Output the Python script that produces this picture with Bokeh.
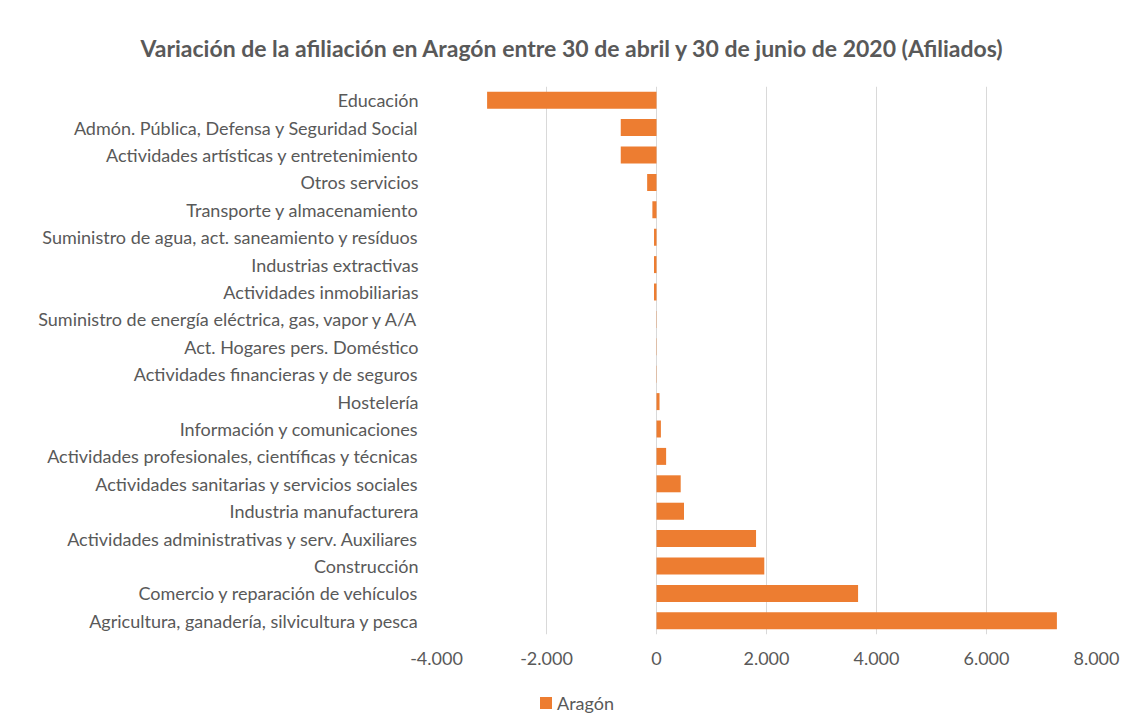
from bokeh.plotting import figure
from bokeh.models import (FactorRange, Range1d, FixedTicker, Title, Div,
                          ColumnDataSource)
from bokeh.layouts import column
from bokeh.embed import file_html
from bokeh.resources import INLINE

categories = [
    "Educación",
    "Admón. Pública, Defensa y Seguridad Social",
    "Actividades artísticas y entretenimiento",
    "Otros servicios",
    "Transporte y almacenamiento",
    "Suministro de agua, act. saneamiento y resíduos",
    "Industrias extractivas",
    "Actividades inmobiliarias",
    "Suministro de energía eléctrica, gas, vapor y A/A",
    "Act. Hogares pers. Doméstico",
    "Actividades financieras y de seguros",
    "Hostelería",
    "Información y comunicaciones",
    "Actividades profesionales, científicas y técnicas",
    "Actividades sanitarias y servicios sociales",
    "Industria manufacturera",
    "Actividades administrativas y serv. Auxiliares",
    "Construcción",
    "Comercio y reparación de vehículos",
    "Agricultura, ganadería, silvicultura y pesca",
]
aragon = [-3080, -650, -650, -170, -75, -45, -45, -45, -5, -5, -5,
          55, 80, 175, 440, 500, 1810, 1960, 3665, 7280]

tick_values = [-4000, -2000, 0, 2000, 4000, 6000, 8000]
tick_labels = ["-4.000", "-2.000", "0", "2.000", "4.000", "6.000", "8.000"]

title_text = "Variación de la afiliación en Aragón entre 30 de abril y 30 de junio de 2020 (Afiliados)"
series_name = "Aragón"
bar_color = "#ED7D31"

FONT = "Lato"
TXT = "#595959"

src = ColumnDataSource(dict(cat=categories, val=aragon))

p = figure(width=1130, height=686,
           y_range=FactorRange(factors=list(reversed(categories))),
           x_range=Range1d(-4000, 8000),
           output_backend="svg", toolbar_location=None,
           min_border_left=436, min_border_right=34,
           min_border_top=86, min_border_bottom=52)

r = p.hbar(y="cat", right="val", left=0, height=0.62, source=src,
           fill_color=bar_color, line_color=None)

p.outline_line_color = None
p.ygrid.grid_line_color = None
p.xgrid.grid_line_color = "#d9d9d9"
p.xgrid.grid_line_width = 1

p.xaxis.ticker = FixedTicker(ticks=tick_values)
p.xaxis.major_label_overrides = {v: l for v, l in zip(tick_values, tick_labels)}
for ax in (p.xaxis, p.yaxis):
    ax.axis_line_color = None
    ax.major_tick_line_color = None
    ax.minor_tick_line_color = None
    ax.major_tick_out = 0
    ax.major_tick_in = 0
    ax.major_label_text_font = FONT
    ax.major_label_text_font_size = "18px"
    ax.major_label_text_color = TXT
p.xaxis.major_label_standoff = 17
p.yaxis.major_label_standoff = 18

title = Title(text=title_text, align="left", offset=-296, standoff=50,
              text_font=FONT, text_font_style="bold", text_font_size="23px",
              text_color=TXT)
p.add_layout(title, "above")

legend_div = Div(
    text=('<div style="display:flex;align-items:center;margin-left:540px;'
          'font-family:Lato;font-size:18px;color:%s;line-height:22px">'
          '<span style="display:inline-block;width:12px;height:12px;'
          'background:%s;margin-right:5px"></span>%s</div>')
    % (TXT, bar_color, series_name),
    width=1130, height=34, margin=(6, 0, 0, 0))

layout = column(p, legend_div, spacing=0)

open("out.html", "w").write(file_html(layout, INLINE))
